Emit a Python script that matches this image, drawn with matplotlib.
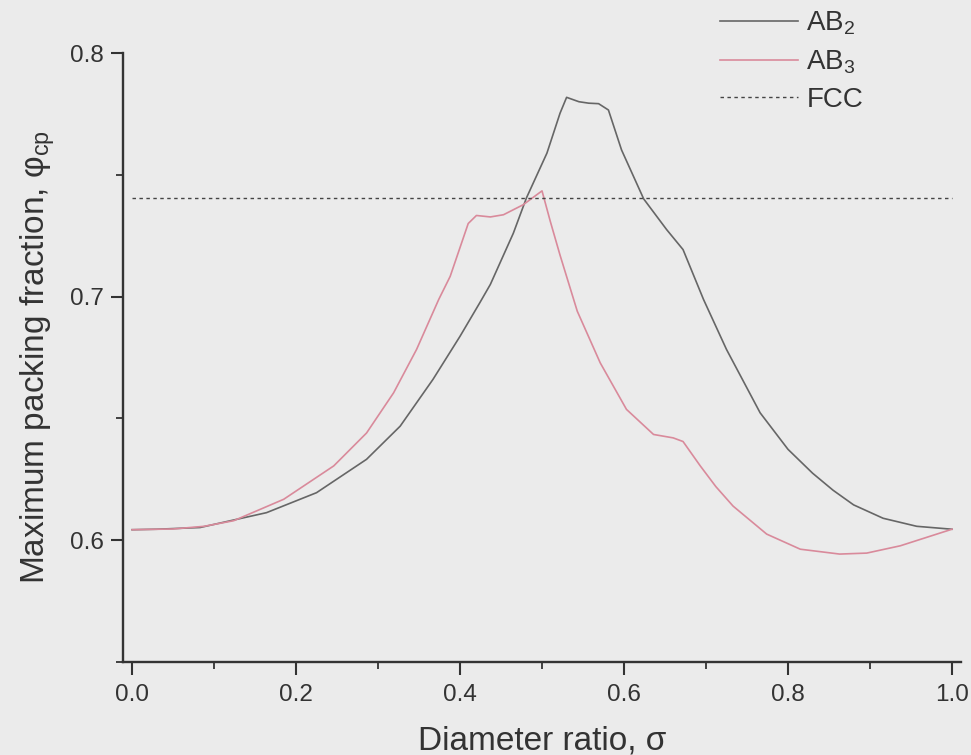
"""Maximum packing fraction of AB2 / AB3 binary crystals vs. diameter ratio."""
import matplotlib
matplotlib.use("Agg")
import matplotlib.pyplot as plt
from matplotlib.ticker import MultipleLocator

BG = "#ebebeb"
GREY = "#666666"
PINK = "#d98a9b"
INK = "#333333"

# values
ab2_sigma = [0.0, 0.03, 0.083, 0.164, 0.225, 0.286, 0.327, 0.367, 0.400, 0.424,
             0.437, 0.465, 0.481, 0.506, 0.522, 0.530, 0.545, 0.557, 0.569,
             0.581, 0.597, 0.624, 0.652, 0.672, 0.697, 0.725, 0.766, 0.800,
             0.830, 0.855, 0.880, 0.916, 0.957, 1.0]
ab2_phi = [0.6043, 0.6045, 0.6052, 0.6113, 0.6195, 0.6332, 0.6468, 0.6660,
           0.6837, 0.6974, 0.7050, 0.7260, 0.7405, 0.7589, 0.7753, 0.7818,
           0.7800, 0.7794, 0.7792, 0.7766, 0.7602, 0.7401, 0.7275, 0.7193,
           0.6988, 0.6783, 0.6523, 0.6373, 0.6275, 0.6205, 0.6145, 0.6090,
           0.6057, 0.6045]

ab3_sigma = [0.0, 0.05, 0.088, 0.124, 0.185, 0.246, 0.286, 0.319, 0.347, 0.374,
             0.388, 0.410, 0.420, 0.437, 0.453, 0.477, 0.500, 0.510, 0.522,
             0.543, 0.571, 0.603, 0.636, 0.660, 0.672, 0.693, 0.712, 0.733,
             0.774, 0.815, 0.863, 0.896, 0.937, 1.0]
ab3_phi = [0.6043, 0.6046, 0.6057, 0.6080, 0.6168, 0.6305, 0.6440, 0.6605,
           0.6783, 0.6988, 0.7083, 0.7300, 0.7333, 0.7327, 0.7336, 0.7377,
           0.7434, 0.7310, 0.7170, 0.6940, 0.6728, 0.6537, 0.6434, 0.6420,
           0.6405, 0.6305, 0.6220, 0.6140, 0.6025, 0.5963, 0.5943, 0.5947,
           0.5977, 0.6045]

FCC = 0.7405

plt.rcParams["font.family"] = ["Liberation Sans", "DejaVu Sans"]
plt.rcParams["mathtext.fontset"] = "custom"
plt.rcParams["mathtext.rm"] = "Liberation Sans"
plt.rcParams["mathtext.it"] = "Liberation Sans:italic"

fig = plt.figure(figsize=(9.71, 7.55), dpi=100, facecolor=BG)
ax = fig.add_axes([0.1267, 0.1232, 0.863, 0.8066])
ax.set_facecolor(BG)

ax.plot(ab2_sigma, ab2_phi, color=GREY, lw=1.2, label=r"AB$_\mathregular{2}$")
ax.plot(ab3_sigma, ab3_phi, color=PINK, lw=1.2, label=r"AB$_\mathregular{3}$")
ax.plot([0.0, 1.0], [FCC, FCC], color="#444444", lw=1.0, ls=(0, (2.5, 2.5)),
        label="FCC")

ax.set_xlim(-0.011, 1.011)
ax.set_ylim(0.55, 0.8)
ax.xaxis.set_major_locator(MultipleLocator(0.2))
ax.xaxis.set_minor_locator(MultipleLocator(0.1))
ax.yaxis.set_major_locator(MultipleLocator(0.1))
ax.yaxis.set_minor_locator(MultipleLocator(0.05))
ax.xaxis.set_major_formatter(lambda v, _: f"{v:.1f}")
ax.yaxis.set_major_formatter(lambda v, _: f"{v:.1f}")

for side in ("top", "right"):
    ax.spines[side].set_visible(False)
for side in ("left", "bottom"):
    ax.spines[side].set_linewidth(1.7)
    ax.spines[side].set_color(INK)
ax.tick_params(which="major", length=9, width=1.5, color=INK,
               labelsize=17.5, labelcolor=INK, pad=5)
ax.tick_params(which="minor", length=5, width=1.3, color=INK)
ax.tick_params(axis="x", which="major", pad=7)

ax.set_xlabel("Diameter ratio, σ", fontsize=24, color=INK, labelpad=14)
ax.set_ylabel(r"Maximum packing fraction, φ$_\mathregular{cp}$", fontsize=24,
              color=INK, labelpad=9)

ax.legend(loc="upper right", bbox_to_anchor=(0.889, 0.987),
          bbox_transform=fig.transFigure, frameon=False, borderpad=0.0,
          fontsize=20, handlelength=2.8, handletextpad=0.3, labelspacing=0.4,
          borderaxespad=0.0, labelcolor=INK)

fig.savefig("out.png", facecolor=BG)
